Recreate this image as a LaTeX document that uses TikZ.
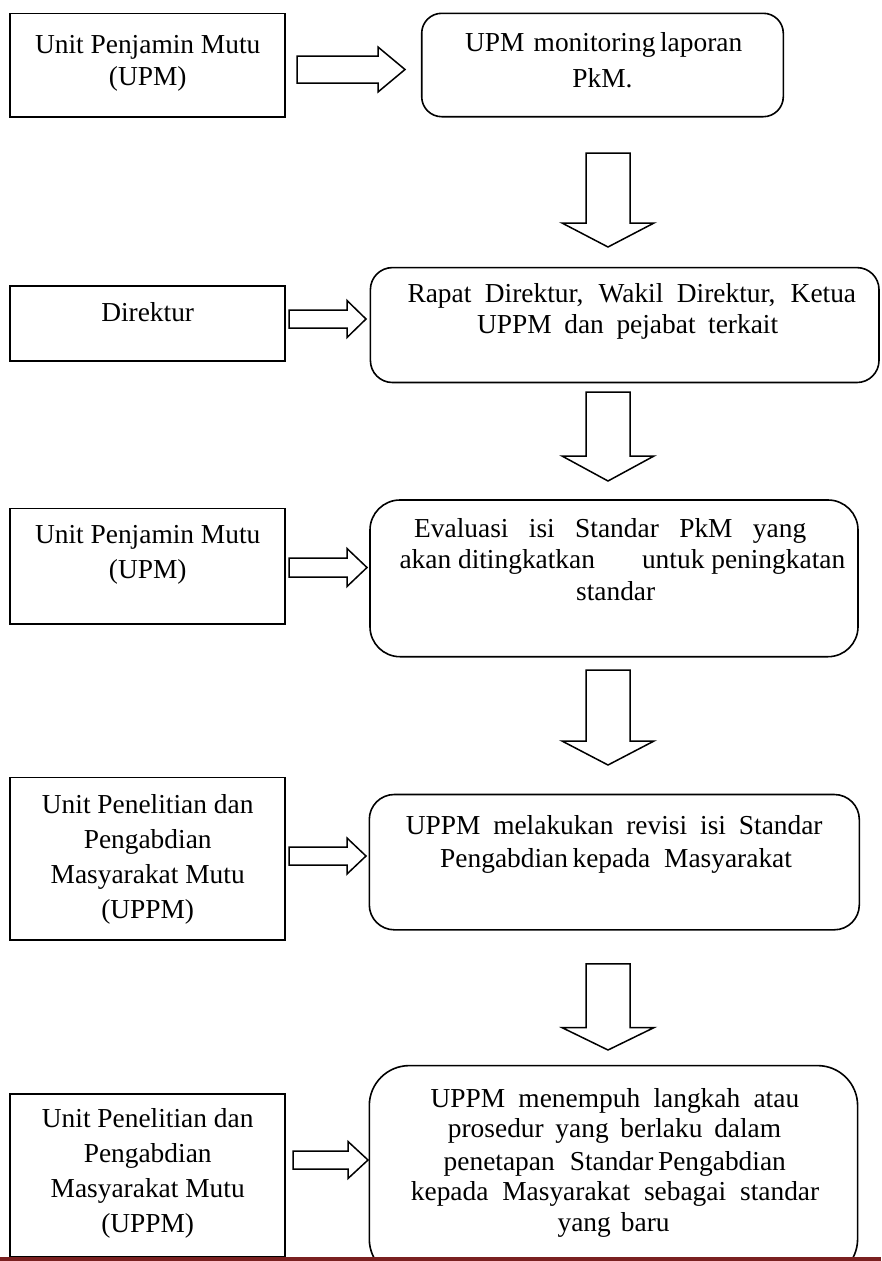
\documentclass[tikz,border=0pt]{standalone}
\usepackage{fontspec}
\setmainfont{Liberation Serif}
\definecolor{footrule}{RGB}{122,32,32}
\tikzset{
  unitbox/.style={draw, line width=1.6pt, rectangle, inner sep=0pt},
  stepbox/.style={draw, line width=1.6pt, rectangle, inner sep=0pt, rounded corners=#1},
  boxtext/.style={inner sep=0pt, anchor=base west},
  blockarrow/.style={draw, line width=1.5pt, fill=white, line join=miter},
}
% one line: indent, width, alignment (s = spread, c = centred), then the text
\newcommand{\tline}[3]{\hspace*{#1pt}\makebox[#2pt][#3]}
% text blocks: baseline skip, content
\newcommand{\ltext}[2]{\parbox[t]{600pt}{\raggedright\fontsize{27.4}{#1}\selectfont #2}}
\newcommand{\ctext}[2]{\parbox[t]{275pt}{\centering\fontsize{27.4}{#1}\selectfont #2}}
% hollow block arrows
\newcommand{\rightblock}[6]{% x0, x1, tip x, centre y, body half height, head half height
  \draw[blockarrow] (#1,#4-#5) -- (#2,#4-#5) -- (#2,#4-#6) -- (#3,#4) -- (#2,#4+#6) -- (#2,#4+#5) -- (#1,#4+#5) -- cycle;}
\newcommand{\downblock}[6]{% centre x, y0, y1, tip y, body half width, head half width
  \draw[blockarrow] (#1-#5,#2) -- (#1+#5,#2) -- (#1+#5,#3) -- (#1+#6,#3) -- (#1,#4) -- (#1-#6,#3) -- (#1-#5,#3) -- cycle;}

\begin{document}
\begin{tikzpicture}[x=1pt, y=-1pt]
\clip (0,0) rectangle (881,1261);
\fill[white] (0,0) rectangle (881,1261);

% ---- responsible units (left column)
\node[unitbox, minimum width=275pt, minimum height=103.4pt] (u1) at (147.5,65) {};
\node[unitbox, minimum width=275pt, minimum height=74.7pt]  (u2) at (147.5,323.35) {};
\node[unitbox, minimum width=275pt, minimum height=115.7pt] (u3) at (147.5,566.15) {};
\node[unitbox, minimum width=275pt, minimum height=162.7pt] (u4) at (147.5,858.65) {};
\node[unitbox, minimum width=275pt, minimum height=163pt]   (u5) at (147.5,1175.5) {};

\node[boxtext] (tu1) at (10,53.3)  {\ctext{31.7}{Unit Penjamin Mutu\\(UPM)}};
\node[boxtext] (tu2) at (10,321)   {\ctext{35}{Direktur}};
\node[boxtext] (tu3) at (10,543)   {\ctext{35}{Unit Penjamin Mutu\\(UPM)}};
\node[boxtext] (tu4) at (10,813)   {\ctext{35}{Unit Penelitian dan\\Pengabdian\\Masyarakat Mutu\\(UPPM)}};
\node[boxtext] (tu5) at (10,1127)  {\ctext{35}{Unit Penelitian dan\\Pengabdian\\Masyarakat Mutu\\(UPPM)}};

% ---- procedure steps (right column)
\node[stepbox=20pt, minimum width=361.6pt, minimum height=103.4pt] (s1) at (602.5,65) {};
\node[stepbox=22pt, minimum width=508.6pt, minimum height=114.9pt] (s2) at (624.7,325.05) {};
\node[stepbox=30pt, minimum width=488pt,   minimum height=156.7pt] (s3) at (614,578.35) {};
\node[stepbox=25pt, minimum width=490pt,   minimum height=135.3pt] (s4) at (614.3,862.15) {};
\node[stepbox=40pt, minimum width=488.3pt, minimum height=213.4pt] (s5) at (613.45,1172.3) {};

\node[boxtext] (ts1) at (421.7,51.7) {\ltext{35.6}{%
  \tline{43.3}{275.7}{s}{UPM\ \ monitoring laporan}\\
  \tline{151}{59}{c}{PkM.}}};
\node[boxtext] (ts2) at (370.4,302) {\ltext{31.1}{%
  \tline{36.9}{448.6}{s}{Rapat Direktur, Wakil Direktur, Ketua}\\
  \tline{106.6}{301}{s}{UPPM dan pejabat terkait}}};
\node[boxtext] (ts3) at (370,537.3) {\ltext{31.35}{%
  \tline{44}{392}{s}{Evaluasi isi Standar PkM yang}\\
  \tline{29.3}{445.7}{s}{\mbox{akan ditingkatkan} \mbox{untuk peningkatan}}\\
  \tline{206}{79}{c}{standar}}};
\node[boxtext] (ts4) at (369.3,834.5) {\ltext{32.5}{%
  \tline{36.3}{416.8}{s}{UPPM melakukan revisi isi Standar}\\
  \tline{70.7}{348.6}{s}{Pengabdian kepada\hspace{14pt}Masyarakat}}};
\node[boxtext] (ts5) at (369.3,1107) {\ltext{30.5}{%
  \tline{61.1}{368.6}{s}{UPPM menempuh langkah atau}\\
  \tline{78.4}{333.3}{s}{prosedur yang berlaku dalam}\\[2pt]
  \tline{74.2}{340}{s}{penetapan\hspace{15pt}Standar Pengabdian}\\
  \tline{41.4}{408.3}{s}{kepada Masyarakat sebagai standar}\\
  \tline{188.1}{112}{s}{yang baru}}};

% ---- arrows from each unit to its step
\rightblock{297}{378}{405}{69.5}{13.5}{22.5}
\rightblock{289}{347}{366}{319}{9}{18.5}
\rightblock{289}{347}{367}{567.5}{9.5}{19}
\rightblock{289}{347}{366}{856}{9}{18}
\rightblock{293}{348}{368}{1160}{9}{18.5}

% ---- arrows between consecutive steps
\downblock{608}{153}{223}{247}{22}{46}
\downblock{608}{392}{456}{481}{22}{46}
\downblock{608}{670}{741}{765}{22}{46}
\downblock{608}{963.8}{1027.6}{1050}{22}{46}

% ---- page footer rule
\fill[footrule] (0,1257) rectangle (881,1262);
\end{tikzpicture}
\end{document}
